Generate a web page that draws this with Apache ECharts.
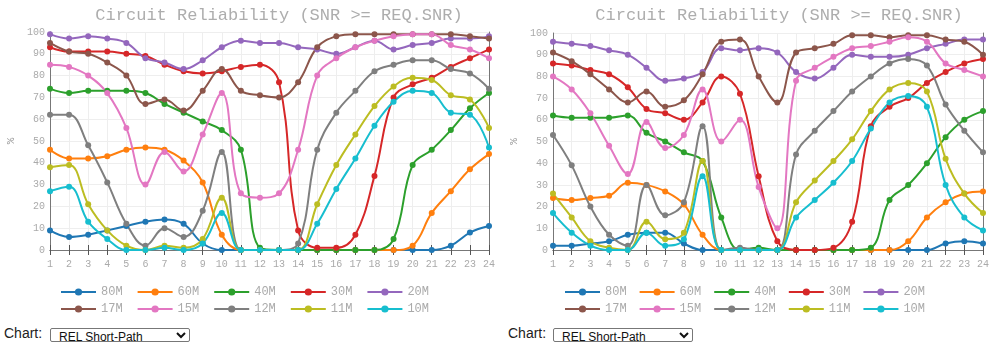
<!DOCTYPE html>
<html>
<head>
<meta charset="utf-8">
<script src="https://cdn.jsdelivr.net/npm/echarts@6/dist/echarts.min.js"></script>
<style>
body {
  margin: 0;
  width: 996px;
  height: 342px;
  position: relative;
  overflow: hidden;
  background: #fff;
  font-family: 'Liberation Sans', Arial, sans-serif;
}
.chart {
  position: absolute;
  top: 0;
  height: 322px;
}
#relA { left: 0; width: 500px; }
#relB { left: 504px; width: 492px; }
.lbl {
  position: absolute;
  top: 325px;
  font-size: 14px;
  color: #222;
}
.sel {
  position: absolute;
  top: 328px;
  width: 140px;
  height: 14px;
  font-size: 12px;
  padding: 0 0 0 4px;
  margin: 0;
  border: 1px solid #777;
  border-radius: 2px;
  background: #fff;
  color: #111;
  box-sizing: border-box;
}
</style>
</head>
<body>
<div id="relA" class="chart"></div>
<div id="relB" class="chart"></div>
<span class="lbl" style="left:4px">Chart:</span>
<select class="sel" style="left:50px"><option>REL Short-Path</option></select>
<span class="lbl" style="left:508px">Chart:</span>
<select class="sel" style="left:553px"><option>REL Short-Path</option></select>

<script>
const hours = ['1', '2', '3', '4', '5', '6', '7', '8', '9', '10', '11', '12',
  '13', '14', '15', '16', '17', '18', '19', '20', '21', '22', '23', '24']
const bands = ['80M', '60M', '40M', '30M', '20M', '17M', '15M', '12M', '11M', '10M']
const palette = ['#1f77b4', '#ff7f0e', '#2ca02c', '#d62728', '#9467bd',
  '#8c564b', '#e377c2', '#7f7f7f', '#bcbd22', '#17becf']

// left chart, one row per band
const relA80 = [9, 6, 7, 9, 11, 13, 14, 12, 3, 0, 0, 0, 0, 0, 0, 0, 0, 0, 0, 0, 0, 2, 8, 11]
const relA60 = [46, 42, 42, 43, 46, 47, 46, 41, 31, 7, 0, 0, 0, 0, 0, 0, 0, 0, 0, 2, 17, 27, 37, 44]
const relA40 = [74, 72, 73, 73, 73, 72, 67, 63, 59, 55, 46, 1, 0, 0, 0, 0, 0, 0, 5, 39, 46, 55, 65, 72]
const relA30 = [93, 91, 91, 91, 90, 89, 85, 82, 81, 82, 84, 85, 77, 9, 1, 1, 7, 34, 70, 76, 79, 84, 88, 92]
const relA20 = [99, 97, 98, 97, 95, 88, 86, 83, 87, 93, 96, 95, 95, 93, 92, 90, 93, 96, 92, 94, 95, 97, 97, 98]
const relA17 = [95, 91, 90, 86, 80, 67, 69, 64, 73, 83, 73, 71, 70, 77, 93, 98, 99, 99, 99, 99, 99, 99, 98, 97]
const relA15 = [85, 84, 80, 72, 56, 30, 45, 36, 53, 72, 26, 24, 26, 46, 80, 88, 93, 96, 98, 99, 99, 94, 92, 88]
const relA12 = [62, 62, 48, 31, 12, 2, 10, 6, 18, 45, 0, 0, 0, 3, 46, 63, 73, 82, 85, 87, 87, 83, 81, 74]
const relA11 = [38, 39, 21, 9, 2, 0, 2, 1, 5, 24, 0, 0, 0, 0, 21, 39, 53, 66, 75, 79, 78, 71, 69, 56]
const relA10 = [27, 29, 13, 5, 0, 0, 1, 0, 3, 17, 0, 0, 0, 0, 12, 28, 42, 57, 68, 73, 72, 63, 62, 47]

// right chart
const relB80 = [2, 2, 3, 4, 7, 8, 8, 3, 0, 0, 0, 0, 0, 0, 0, 0, 0, 0, 0, 0, 0, 3, 4, 3]
const relB60 = [24, 23, 24, 25, 31, 30, 27, 21, 7, 0, 0, 0, 0, 0, 0, 0, 0, 0, 0, 4, 15, 22, 26, 27]
const relB40 = [62, 61, 61, 61, 62, 54, 50, 45, 41, 15, 0, 1, 0, 0, 0, 0, 0, 1, 23, 30, 40, 52, 60, 64]
const relB30 = [86, 85, 83, 81, 75, 65, 63, 60, 68, 80, 72, 34, 4, 0, 0, 1, 13, 57, 66, 70, 77, 82, 86, 88]
const relB20 = [96, 95, 94, 92, 90, 84, 78, 79, 82, 93, 92, 93, 91, 82, 79, 84, 90, 89, 89, 90, 93, 95, 97, 97]
const relB17 = [91, 87, 81, 74, 68, 73, 66, 69, 81, 96, 97, 80, 68, 91, 93, 95, 99, 99, 98, 99, 99, 97, 96, 90]
const relB15 = [80, 74, 63, 48, 35, 59, 47, 53, 74, 50, 60, 29, 10, 78, 84, 89, 93, 94, 96, 98, 96, 86, 83, 80]
const relB12 = [53, 39, 20, 7, 2, 30, 16, 22, 57, 0, 1, 0, 0, 44, 55, 64, 73, 80, 86, 88, 85, 67, 55, 45]
const relB11 = [26, 15, 4, 1, 0, 13, 5, 8, 41, 0, 0, 0, 0, 22, 32, 41, 51, 64, 74, 77, 73, 42, 26, 17]
const relB10 = [17, 8, 2, 0, 0, 8, 2, 5, 34, 0, 0, 0, 0, 15, 23, 31, 41, 56, 68, 71, 66, 30, 15, 9]

const mono = "'Liberation Mono', 'Courier New', monospace"

function legendRow(names, left, top, gap) {
  return {
    data: names,
    left: left,
    top: top,
    itemWidth: 35,
    itemHeight: 9,
    itemGap: gap,
    textStyle: { color: '#aaa', fontFamily: mono, fontSize: 12 }
  }
}

function buildOption(rows, lay) {
  return {
    animation: false,
    color: palette,
    title: {
      text: 'Circuit Reliability (SNR >= REQ.SNR)',
      left: lay.titleX,
      textAlign: 'center',
      top: 2,
      textStyle: { color: '#adadad', fontFamily: mono, fontSize: 17, fontWeight: 'normal' }
    },
    legend: [
      legendRow(bands.slice(0, 5), lay.legendX, 281, lay.legendGap),
      legendRow(bands.slice(5), lay.legendX, 298, lay.legendGap)
    ],
    grid: {
      left: lay.left,
      right: lay.right,
      top: lay.top,
      bottom: lay.bottom,
      containLabel: false,
      outerBoundsMode: 'none'
    },
    xAxis: [
      {
        type: 'category',
        data: hours,
        boundaryGap: false,
        axisLine: { lineStyle: { color: '#777' } },
        axisTick: { length: 5, lineStyle: { color: '#555' } },
        axisLabel: { color: '#aaa', fontFamily: mono, fontSize: 10, margin: 9, interval: 0 },
        splitLine: { show: true, lineStyle: { color: '#eee' } }
      },
      {
        type: 'category',
        data: hours,
        position: 'top',
        boundaryGap: false,
        axisLine: { lineStyle: { color: '#777' } },
        axisTick: { length: 5, interval: 0, lineStyle: { color: '#555' } },
        axisLabel: { show: false },
        splitLine: { show: false }
      }
    ],
    yAxis: [
      {
        type: 'value',
        min: 0,
        max: 100,
        interval: 10,
        name: '%',
        nameLocation: 'middle',
        nameGap: 30,
        nameTextStyle: { color: '#999', fontFamily: mono, fontSize: 11 },
        axisLine: { show: true, lineStyle: { color: '#777' } },
        axisTick: { show: false },
        axisLabel: { color: '#aaa', fontFamily: mono, fontSize: 10, margin: 5 },
        splitLine: { lineStyle: { color: '#eee' } }
      },
      {
        type: 'value',
        min: 0,
        max: 100,
        position: 'right',
        axisLine: { show: true, lineStyle: { color: '#777' } },
        axisTick: { show: false },
        axisLabel: { show: false },
        splitLine: { show: false }
      }
    ],
    series: bands.map((b, i) => ({
      name: b,
      type: 'line',
      data: rows[i],
      smooth: 0.4,
      symbol: 'circle',
      symbolSize: 6,
      lineStyle: { width: 2 }
    }))
  }
}

const chartA = echarts.init(document.getElementById('relA'))
chartA.setOption(buildOption(
  [relA80, relA60, relA40, relA30, relA20, relA17, relA15, relA12, relA11, relA10],
  { left: 50, right: 11, top: 32, bottom: 72, titleX: 274, legendX: 55, legendGap: 14 }
))

const chartB = echarts.init(document.getElementById('relB'))
chartB.setOption(buildOption(
  [relB80, relB60, relB40, relB30, relB20, relB17, relB15, relB12, relB11, relB10],
  { left: 49, right: 13, top: 33, bottom: 72, titleX: 270, legendX: 55, legendGap: 12 }
))
</script>
</body>
</html>
